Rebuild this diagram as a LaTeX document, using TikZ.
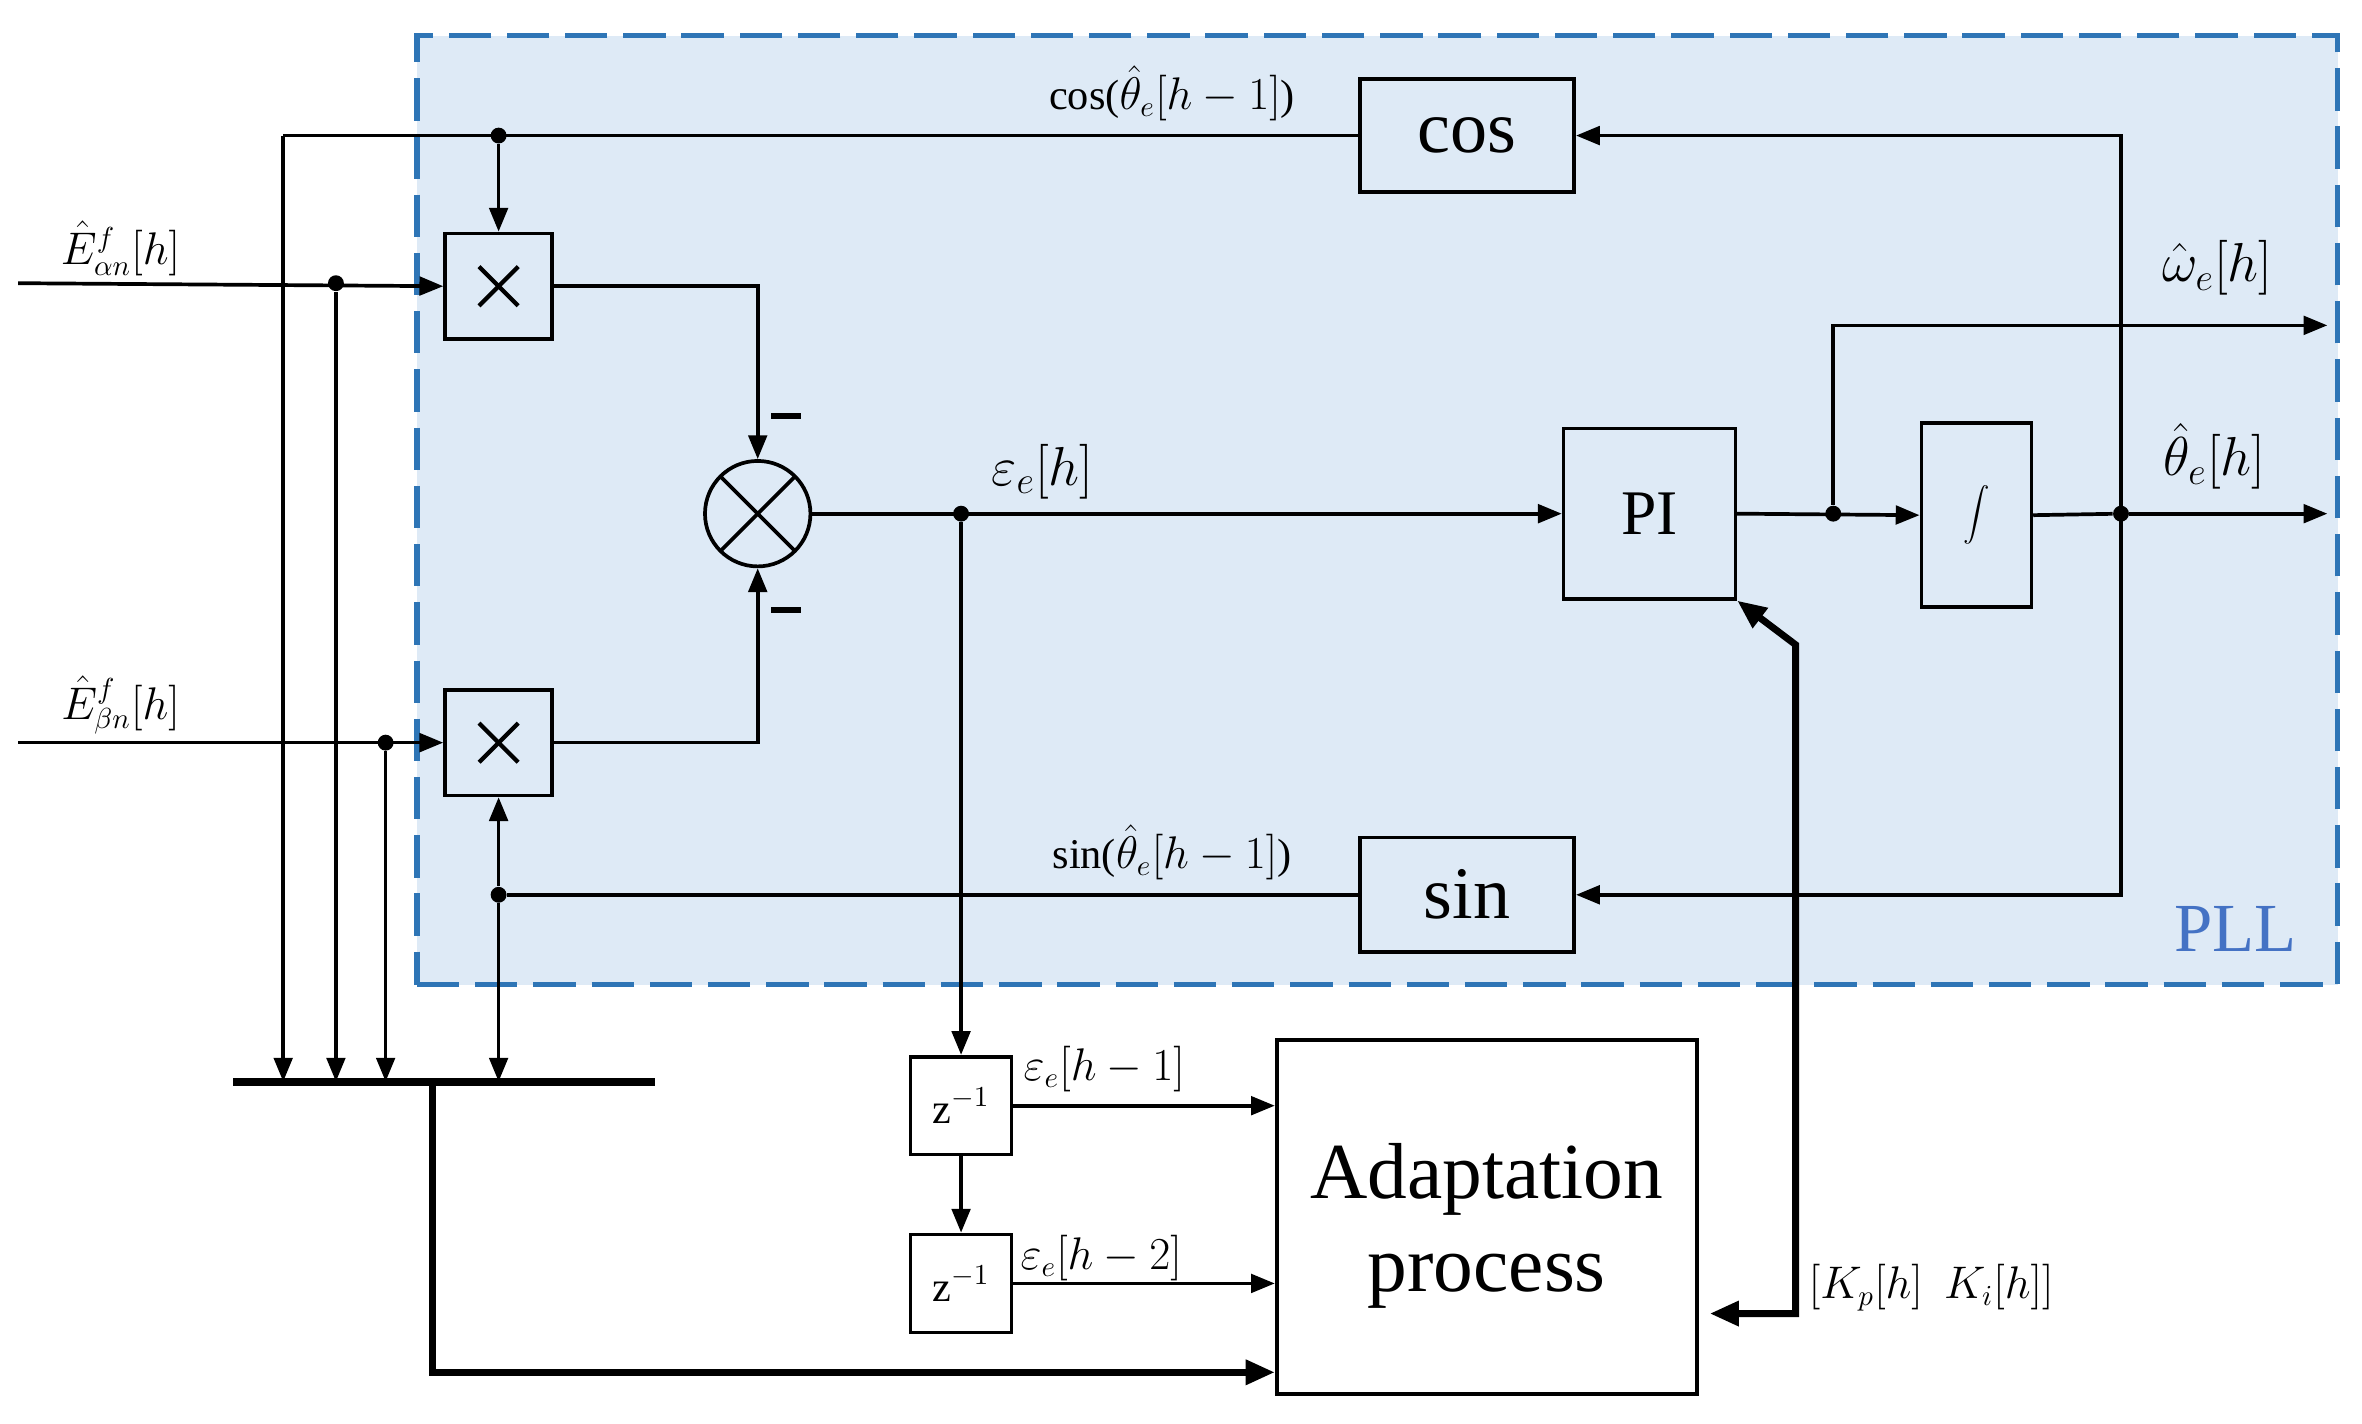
\documentclass[tikz,border=0pt]{standalone}
\usepackage{fontspec}
\setmainfont{Liberation Serif}
\usetikzlibrary{arrows.meta}
\definecolor{pllfill}{RGB}{222,234,246}
\definecolor{plldash}{RGB}{46,117,182}
\definecolor{plltext}{RGB}{68,114,196}
\begin{document}
\begin{tikzpicture}[x=0.02cm,y=-0.02cm,
  ln/.style={line width=1.4pt},
  ar/.style={ln,-{Triangle[length=9pt,width=7pt]}},
  tk/.style={line width=2.6pt},
  blk/.style={draw,line width=1.4pt,fill=pllfill,inner sep=0pt},
  dot/.style={circle,fill,inner sep=0pt,minimum size=6pt},
  lab/.style={font=\fontsize{16}{18}\selectfont}]
\useasboundingbox (0,0) rectangle (1568,945);
\node[draw=plldash,dash pattern=on 16pt off 6pt,line width=2pt,fill=pllfill,minimum width=1275*0.02cm,minimum height=630*0.02cm,anchor=north west] (pll) at (275,22) {};
\node[text=plltext,font=\fontsize{26}{28}\selectfont] (plllab) at (1484,617) {PLL};
% blocks
\node[blk,minimum width=142*0.02cm,minimum height=75*0.02cm,font=\fontsize{28}{30}\selectfont] (cos) at (974,90) {cos};
\node[blk,minimum width=142*0.02cm,minimum height=76*0.02cm,font=\fontsize{28}{30}\selectfont] (sin) at (974,594) {sin};
\node[blk,minimum width=71*0.02cm,minimum height=70*0.02cm] (m1) at (331,190) {};
\node[blk,minimum width=71*0.02cm,minimum height=70*0.02cm] (m2) at (331,493) {};
\foreach \m in {m1,m2}{
  \draw[line width=1.6pt] ([shift={(-13,-13)}]\m.center) -- ([shift={(13,13)}]\m.center);
  \draw[line width=1.6pt] ([shift={(-13,13)}]\m.center) -- ([shift={(13,-13)}]\m.center);}
\node[blk,circle,minimum size=70*0.02cm] (sum) at (503,341) {};
\draw[ln] ([shift={(45:35*0.02cm)}]sum.center) -- ([shift={(225:35*0.02cm)}]sum.center);
\draw[ln] ([shift={(135:35*0.02cm)}]sum.center) -- ([shift={(-45:35*0.02cm)}]sum.center);
\node[inner sep=0pt] (mA) at (522,276) {\rule{0.4cm}{2.4pt}};
\node[inner sep=0pt] (mB) at (522,405) {\rule{0.4cm}{2.4pt}};
\node[blk,minimum width=114*0.02cm,minimum height=113*0.02cm,font=\fontsize{24}{26}\selectfont] (pi) at (1095,341) {PI};
\node[blk,minimum width=73*0.02cm,minimum height=122*0.02cm,font=\fontsize{20}{22}\selectfont] (int) at (1312,342) {$\displaystyle\int$};
\node[draw,line width=1.4pt,fill=white,minimum width=67*0.02cm,minimum height=65*0.02cm,inner sep=0pt,font=\fontsize{16}{18}\selectfont] (z1) at (638,734) {z$^{-1}$};
\node[draw,line width=1.4pt,fill=white,minimum width=67*0.02cm,minimum height=65*0.02cm,inner sep=0pt,font=\fontsize{16}{18}\selectfont] (z2) at (638,852) {z$^{-1}$};
\node[draw,line width=1.4pt,fill=white,minimum width=279*0.02cm,minimum height=235*0.02cm,align=center,font=\fontsize{30}{35}\selectfont] (ad) at (987,808) {};
\node[align=center,font=\fontsize{30}{35}\selectfont] (adt) at (987,814) {Adaptation\\process};
% coordinates
\node[dot] (d1) at (331,90) {};
\node[dot] (d2) at (223,188) {};
\node[dot] (d3) at (256,493) {};
\node[dot] (d4) at (331,594) {};
\node[dot] (d5) at (638,341) {};
\node[dot] (d6) at (1217,341) {};
\node[dot] (d7) at (1408,341) {};
\coordinate (ina) at (12,188);
\coordinate (inb) at (12,493);
\coordinate (bl) at (155,718);
\coordinate (br) at (435,718);
\coordinate (cl) at (188,90);
\coordinate (ow) at (1545,216);
\coordinate (ot) at (1545,341);
\coordinate (kb) at (1192,428);
% bus
\draw[line width=3pt] (bl) -- (br);
% cos path
\draw[ar] (1408,341) |- (cos.east);
\draw[ln] (cos.west) -- (cl);
\draw[ar] (cl) -- (cl|-bl);
\draw[ar] (d1) -- (m1.north);
% sin path
\draw[ar] (1408,341) |- (sin.east);
\draw[ln] (sin.west) -- (d4);
\draw[ar] (d4) -- (m2.south);
\draw[ar] (d4) -- (d4|-bl);
% inputs
\draw[ar] (ina) -- (m1.west);
\draw[ar] (d2) -- (d2|-bl);
\draw[ar] (inb) -- (m2.west);
\draw[ar] (d3) -- (d3|-bl);
% to sum
\draw[ar] (m1.east) -| (sum.north);
\draw[ar] (m2.east) -| (sum.south);
\draw[ar] (sum.east) -- (pi.west);
\draw[ar] (d5) -- (z1.north);
\draw[ar] (z1.south) -- (z2.north);
\draw[ar] (z1.east) -- (z1.east-|ad.west);
\draw[ar] (z2.east) -- (z2.east-|ad.west);
\draw[tk,-{Triangle[length=11pt,width=9pt]}] (287,718) |- (ad.west|-0,911);
% PI out
\draw[ar] (pi.east) -- (int.west);
\draw[ar] (d6) |- (ow);
\draw[ln] (int.east) -- (d7);
\draw[ar] (d7) -- (ot);
% gains
\draw[tk,{Triangle[length=11pt,width=9pt]}-{Triangle[length=11pt,width=9pt]}] (1135,872) -| (kb) -- (pi.south east);
% labels
\node[lab] at (778,62) {cos($\hat{\theta}_e[h-1]$)};
\node[lab] at (778,566) {sin($\hat{\theta}_e[h-1]$)};
\node[lab] at (80,165) {$\hat{E}^{f}_{\alpha n}[h]$};
\node[lab] at (80,468) {$\hat{E}^{f}_{\beta n}[h]$};
\node[lab,font=\fontsize{20}{22}\selectfont] at (692,313) {$\varepsilon_e[h]$};
\node[lab] at (733,710) {$\varepsilon_e[h-1]$};
\node[lab] at (731,835) {$\varepsilon_e[h-2]$};
\node[lab,font=\fontsize{20}{22}\selectfont] at (1472,178) {$\hat{\omega}_e[h]$};
\node[lab,font=\fontsize{20}{22}\selectfont] at (1470,303) {$\hat{\theta}_e[h]$};
\node[lab] at (1282,855) {$[K_p[h]\ \ K_i[h]]$};
\end{tikzpicture}
\end{document}
